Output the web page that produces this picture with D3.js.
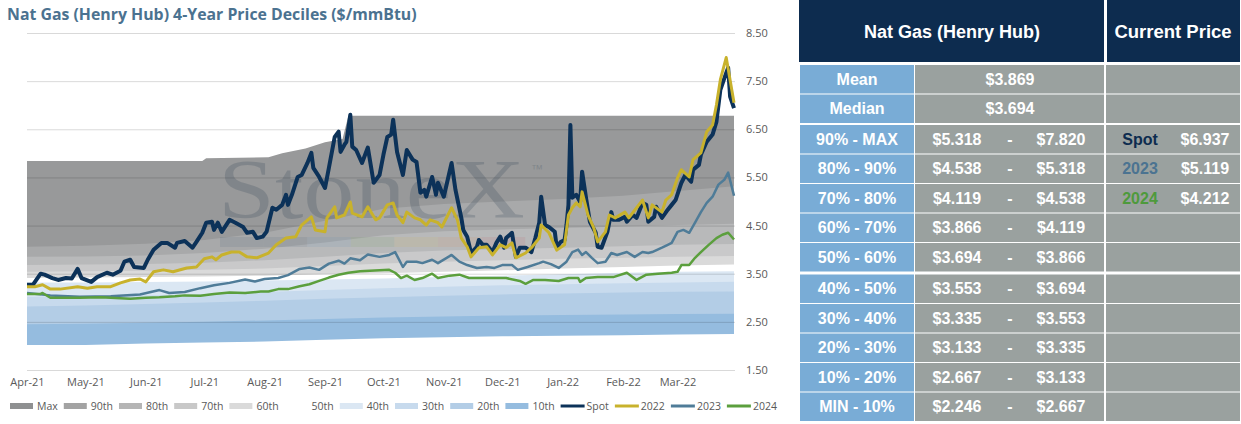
<!DOCTYPE html>
<html>
<head>
<meta charset="utf-8">
<script src="https://cdn.jsdelivr.net/npm/d3@7/dist/d3.min.js"></script>
<style>
body { margin: 0; background: #fff; }
svg { display: block; }
</style>
</head>
<body>
<script>
// ---------- chart data ----------
var monthTicks = ["2021-04-01","2021-05-01","2021-06-01","2021-07-01","2021-08-01","2021-09-01",
                  "2021-10-01","2021-11-01","2021-12-01","2022-01-01","2022-02-01","2022-03-01"];
var yTicks = [1.5, 2.5, 3.5, 4.5, 5.5, 6.5, 7.5, 8.5];

// decile boundaries (monthly)
var bandDates = ["2021-04-01","2021-05-01","2021-06-01","2021-07-01","2021-08-01","2021-09-01","2021-10-01",
                 "2021-11-01","2021-12-01","2022-01-01","2022-02-01","2022-03-01","2022-03-30"];
var p90  = [4.06, 4.08, 4.12, 4.20, 4.35, 4.60, 4.85, 4.95, 5.00, 5.05, 5.12, 5.22, 5.318];
var p80  = [3.85, 3.86, 3.88, 3.93, 4.02, 4.15, 4.30, 4.38, 4.42, 4.45, 4.48, 4.51, 4.538];
var p70  = [3.68, 3.69, 3.70, 3.73, 3.78, 3.85, 3.93, 3.98, 4.01, 4.04, 4.07, 4.10, 4.119];
var p60  = [3.54, 3.55, 3.56, 3.58, 3.61, 3.66, 3.71, 3.75, 3.78, 3.81, 3.83, 3.85, 3.866];
var p50  = [3.41, 3.42, 3.43, 3.44, 3.46, 3.49, 3.51, 3.54, 3.57, 3.61, 3.64, 3.67, 3.694];
var p40  = [3.32, 3.32, 3.33, 3.34, 3.36, 3.38, 3.40, 3.43, 3.46, 3.49, 3.52, 3.54, 3.553];
var p30  = [3.02, 3.03, 3.05, 3.08, 3.12, 3.16, 3.20, 3.23, 3.26, 3.28, 3.30, 3.32, 3.335];
var p20  = [2.82, 2.84, 2.87, 2.90, 2.94, 2.98, 3.01, 3.04, 3.07, 3.09, 3.11, 3.125, 3.133];
var p10  = [2.45, 2.46, 2.48, 2.50, 2.53, 2.56, 2.59, 2.61, 2.63, 2.645, 2.655, 2.663, 2.667];
var pMin = [2.02, 2.02, 2.05, 2.07, 2.09, 2.13, 2.16, 2.18, 2.20, 2.21, 2.22, 2.235, 2.246];
var maxDates = ["2021-04-01","2021-06-30","2021-07-02","2021-08-03","2021-08-10","2021-08-22",
                "2021-09-01","2021-09-10","2021-09-13","2022-03-30"];
var pMax = [5.84, 5.84, 5.90, 5.92, 6.00, 6.10, 6.23, 6.30, 6.78, 6.78];

var spot = [["2021-04-01",3.27],["2021-04-04",3.27],["2021-04-08",3.50],["2021-04-10",3.48],["2021-04-14",3.41],
["2021-04-17",3.37],["2021-04-21",3.41],["2021-04-24",3.40],["2021-04-27",3.60],["2021-04-29",3.41],["2021-05-04",3.33],
["2021-05-07",3.43],["2021-05-12",3.52],["2021-05-15",3.48],["2021-05-19",3.56],["2021-05-21",3.75],["2021-05-24",3.79],
["2021-05-26",3.64],["2021-05-31",3.62],["2021-06-02",3.79],["2021-06-05",4.00],["2021-06-09",4.14],["2021-06-12",4.14],
["2021-06-16",4.04],["2021-06-17",4.14],["2021-06-21",4.18],["2021-06-25",4.04],["2021-06-27",4.16],["2021-06-30",4.35],
["2021-07-02",4.56],["2021-07-05",4.58],["2021-07-06",4.41],["2021-07-08",4.56],["2021-07-10",4.37],["2021-07-14",4.62],
["2021-07-17",4.56],["2021-07-21",4.47],["2021-07-23",4.35],["2021-07-26",4.37],["2021-07-28",4.24],["2021-07-31",4.27],
["2021-08-02",4.37],["2021-08-05",4.87],["2021-08-07",4.83],["2021-08-10",4.93],["2021-08-12",5.14],["2021-08-13",4.93],
["2021-08-15",5.14],["2021-08-18",5.51],["2021-08-20",5.55],["2021-08-23",5.80],["2021-08-25",6.01],["2021-08-26",5.70],
["2021-08-29",5.51],["2021-09-01",5.28],["2021-09-03",5.70],["2021-09-06",6.34],["2021-09-08",6.45],["2021-09-09",6.03],
["2021-09-11",6.18],["2021-09-12",6.24],["2021-09-14",6.80],["2021-09-15",6.14],["2021-09-17",6.07],["2021-09-20",5.80],
["2021-09-23",6.12],["2021-09-26",5.39],["2021-09-29",5.55],["2021-10-01",5.97],["2021-10-03",6.34],["2021-10-05",6.39],
["2021-10-06",6.70],["2021-10-08",6.03],["2021-10-11",5.55],["2021-10-13",6.07],["2021-10-16",5.87],["2021-10-18",5.82],
["2021-10-20",5.18],["2021-10-22",5.24],["2021-10-23",5.10],["2021-10-26",5.51],["2021-10-28",5.14],["2021-10-29",5.39],
["2021-11-01",5.10],["2021-11-05",5.80],["2021-11-07",5.24],["2021-11-10",4.66],["2021-11-11",4.41],["2021-11-13",4.27],
["2021-11-15",3.93],["2021-11-18",4.06],["2021-11-19",4.20],["2021-11-21",4.10],["2021-11-23",4.10],["2021-11-26",3.95],
["2021-11-28",4.14],["2021-11-30",4.27],["2021-12-02",4.04],["2021-12-03",4.24],["2021-12-06",4.35],["2021-12-08",3.85],
["2021-12-10",4.04],["2021-12-13",4.04],["2021-12-16",3.95],["2021-12-18",4.24],["2021-12-20",4.56],["2021-12-21",5.10],
["2021-12-23",4.51],["2021-12-25",4.47],["2021-12-28",4.37],["2021-12-29",4.04],["2021-12-31",4.16],["2022-01-02",4.20],
["2022-01-03",4.51],["2022-01-04",4.93],["2022-01-05",6.59],["2022-01-06",5.08],["2022-01-08",5.14],["2022-01-10",4.99],
["2022-01-11",5.62],["2022-01-13",5.08],["2022-01-15",4.58],["2022-01-18",4.35],["2022-01-19",4.06],["2022-01-21",4.04],
["2022-01-24",4.37],["2022-01-26",4.78],["2022-01-27",4.62],["2022-01-30",4.62],["2022-02-02",4.68],["2022-02-03",4.58],
["2022-02-06",4.72],["2022-02-08",4.66],["2022-02-11",4.97],["2022-02-13",4.93],["2022-02-14",4.58],["2022-02-17",4.68],
["2022-02-18",4.89],["2022-02-21",4.66],["2022-02-24",4.83],["2022-02-26",4.93],["2022-02-28",5.03],["2022-03-03",5.39],
["2022-03-05",5.55],["2022-03-08",5.41],["2022-03-09",5.66],["2022-03-12",5.76],["2022-03-13",5.97],["2022-03-16",6.24],
["2022-03-19",6.39],["2022-03-21",6.66],["2022-03-23",7.32],["2022-03-26",7.67],["2022-03-27",7.78],["2022-03-28",7.18],
["2022-03-30",6.94]];

var strip2022 = [["2021-04-01",3.23],["2021-04-05",3.23],["2021-04-09",3.27],["2021-04-13",3.18],["2021-04-18",3.18],
["2021-04-27",3.23],["2021-05-02",3.20],["2021-05-07",3.23],["2021-05-14",3.23],["2021-05-19",3.31],["2021-05-24",3.37],
["2021-05-29",3.39],["2021-06-01",3.33],["2021-06-05",3.54],["2021-06-10",3.58],["2021-06-15",3.54],["2021-06-22",3.62],
["2021-06-27",3.64],["2021-07-01",3.81],["2021-07-05",3.85],["2021-07-07",3.79],["2021-07-10",3.89],["2021-07-15",3.95],
["2021-07-19",3.95],["2021-07-23",3.85],["2021-07-28",3.83],["2021-08-03",3.93],["2021-08-07",4.10],["2021-08-12",4.24],
["2021-08-17",4.27],["2021-08-20",4.51],["2021-08-25",4.68],["2021-08-27",4.41],["2021-09-01",4.37],["2021-09-02",4.66],
["2021-09-06",4.89],["2021-09-07",4.66],["2021-09-11",4.72],["2021-09-14",4.99],["2021-09-15",4.76],["2021-09-20",4.68],
["2021-09-23",4.89],["2021-09-27",4.62],["2021-09-29",4.66],["2021-10-03",4.93],["2021-10-06",4.97],["2021-10-08",4.72],
["2021-10-11",4.56],["2021-10-13",4.78],["2021-10-17",4.66],["2021-10-20",4.62],["2021-10-23",4.51],["2021-10-25",4.62],
["2021-10-29",4.56],["2021-10-31",4.47],["2021-11-05",4.87],["2021-11-08",4.62],["2021-11-10",4.24],["2021-11-13",4.06],
["2021-11-15",3.85],["2021-11-19",4.04],["2021-11-23",4.06],["2021-11-26",3.89],["2021-11-30",4.10],["2021-12-03",4.04],
["2021-12-06",4.14],["2021-12-08",3.83],["2021-12-13",3.93],["2021-12-16",4.04],["2021-12-20",4.24],["2021-12-21",4.51],
["2021-12-25",4.35],["2021-12-29",3.99],["2022-01-02",4.10],["2022-01-04",4.72],["2022-01-06",4.87],["2022-01-08",4.97],
["2022-01-10",4.89],["2022-01-11",5.20],["2022-01-14",4.72],["2022-01-17",4.45],["2022-01-19",4.16],["2022-01-23",4.37],
["2022-01-25",4.72],["2022-01-28",4.66],["2022-02-02",4.78],["2022-02-04",4.66],["2022-02-08",4.87],["2022-02-11",5.03],
["2022-02-14",4.66],["2022-02-16",4.93],["2022-02-21",4.78],["2022-02-23",5.03],["2022-02-26",5.14],["2022-03-01",5.49],
["2022-03-03",5.66],["2022-03-07",5.51],["2022-03-09",5.87],["2022-03-13",6.01],["2022-03-16",6.45],["2022-03-19",6.59],
["2022-03-21",7.01],["2022-03-23",7.53],["2022-03-26",7.99],["2022-03-30",7.05]];

var strip2023 = [["2021-04-01",3.10],["2021-04-13",3.05],["2021-04-28",3.02],["2021-05-14",3.03],["2021-05-29",3.07],
["2021-06-08",3.16],["2021-06-13",3.10],["2021-06-21",3.12],["2021-06-29",3.20],["2021-07-06",3.26],["2021-07-14",3.31],
["2021-07-22",3.38],["2021-07-27",3.34],["2021-08-01",3.39],["2021-08-08",3.41],["2021-08-13",3.47],["2021-08-19",3.60],
["2021-08-24",3.63],["2021-08-29",3.58],["2021-09-03",3.71],["2021-09-08",3.77],["2021-09-11",3.71],["2021-09-14",3.82],
["2021-09-19",3.78],["2021-09-23",3.90],["2021-09-29",3.85],["2021-10-04",3.89],["2021-10-07",3.95],["2021-10-11",3.64],
["2021-10-13",3.75],["2021-10-18",3.75],["2021-10-21",3.72],["2021-10-26",3.79],["2021-10-29",3.72],["2021-11-05",3.89],
["2021-11-09",3.75],["2021-11-13",3.68],["2021-11-18",3.62],["2021-11-23",3.64],["2021-11-27",3.62],["2021-12-01",3.68],
["2021-12-06",3.68],["2021-12-09",3.58],["2021-12-14",3.64],["2021-12-20",3.72],["2021-12-22",3.75],["2021-12-26",3.70],
["2021-12-30",3.62],["2022-01-03",3.75],["2022-01-06",3.95],["2022-01-09",4.00],["2022-01-11",3.89],["2022-01-13",3.95],
["2022-01-16",3.83],["2022-01-19",3.72],["2022-01-23",3.75],["2022-01-26",3.93],["2022-01-29",3.89],["2022-02-03",3.95],
["2022-02-07",3.85],["2022-02-11",3.95],["2022-02-14",3.93],["2022-02-16",3.95],["2022-02-21",4.04],["2022-02-24",4.10],
["2022-02-26",4.14],["2022-03-01",4.37],["2022-03-04",4.41],["2022-03-07",4.35],["2022-03-10",4.56],["2022-03-13",4.78],
["2022-03-16",4.97],["2022-03-19",5.10],["2022-03-22",5.35],["2022-03-25",5.45],["2022-03-27",5.60],["2022-03-30",5.12]];

var strip2024 = [["2021-04-01",3.08],["2021-04-08",3.08],["2021-04-09",3.10],["2021-04-13",3.00],["2021-04-18",3.00],
["2021-04-28",3.00],["2021-05-09",3.01],["2021-05-24",2.98],["2021-06-01",3.00],["2021-06-08",3.01],["2021-06-16",3.03],
["2021-06-21",3.05],["2021-06-29",3.04],["2021-07-06",3.08],["2021-07-14",3.11],["2021-07-22",3.10],["2021-07-30",3.13],
["2021-08-03",3.13],["2021-08-08",3.18],["2021-08-13",3.18],["2021-08-19",3.24],["2021-08-24",3.28],["2021-08-29",3.35],
["2021-09-03",3.42],["2021-09-08",3.48],["2021-09-13",3.52],["2021-09-19",3.55],["2021-09-24",3.56],["2021-09-29",3.57],
["2021-10-04",3.58],["2021-10-07",3.52],["2021-10-10",3.41],["2021-10-13",3.46],["2021-10-17",3.37],["2021-10-21",3.41],
["2021-10-26",3.50],["2021-10-29",3.41],["2021-11-04",3.46],["2021-11-09",3.48],["2021-11-14",3.41],["2021-11-19",3.41],
["2021-11-26",3.41],["2021-12-03",3.41],["2021-12-10",3.35],["2021-12-13",3.29],["2021-12-17",3.37],["2021-12-23",3.37],
["2021-12-30",3.35],["2022-01-04",3.41],["2022-01-09",3.41],["2022-01-10",3.33],["2022-01-13",3.41],["2022-01-19",3.43],
["2022-01-27",3.43],["2022-02-03",3.52],["2022-02-08",3.37],["2022-02-13",3.48],["2022-02-19",3.50],["2022-02-26",3.52],
["2022-03-01",3.54],["2022-03-03",3.68],["2022-03-07",3.68],["2022-03-10",3.83],["2022-03-13",3.95],["2022-03-17",4.10],
["2022-03-21",4.24],["2022-03-24",4.31],["2022-03-27",4.35],["2022-03-30",4.21]];

// ---------- table data ----------
var rowLabels = ["Mean","Median","90% - MAX","80% - 90%","70% - 80%","60% - 70%","50% - 60%",
                 "40% - 50%","30% - 40%","20% - 30%","10% - 20%","MIN - 10%"];
var rowLow  = [3.869, 3.694, 5.318, 4.538, 4.119, 3.866, 3.694, 3.553, 3.335, 3.133, 2.667, 2.246];
var rowHigh = [null, null, 7.820, 5.318, 4.538, 4.119, 3.866, 3.694, 3.553, 3.335, 3.133, 2.667];
var curNames  = ["Spot", "2023", "2024"];
var curVals   = [6.937, 5.119, 4.212];
var curColors = ["#0d2c4f", "#4b7391", "#4e9a3c"];

// ---------- setup ----------
var W = 1241, H = 424;
var svg = d3.select("body").append("svg").attr("width", W).attr("height", H);
var parse = d3.timeParse("%Y-%m-%d");
var tickFont = "'Open Sans', 'DejaVu Sans', sans-serif";
var tableFont = "'Liberation Sans', Arial, sans-serif";

var plotL = 27, plotR = 734, plotT = 33, plotB = 370;
var x = d3.scaleTime()
    .domain([parse("2021-04-01"), parse("2022-03-30")])
    .range([plotL, plotR]);
var y = d3.scaleLinear()
    .domain([1.5, 8.5])
    .range([plotB, plotT]);

function toPts(dates, vals) {
    return dates.map(function(d, i) { return {date: parse(d), v: vals[i]}; });
}
function fromPairs(arr) {
    return arr.map(function(p) { return {date: parse(p[0]), v: p[1]}; });
}

// title
var title = svg.append("text")
    .attr("x", 7).attr("y", 19.5)
    .attr("font-family", tickFont)
    .attr("font-weight", 700)
    .attr("font-size", 17)
    .attr("fill", "#4b7290")
    .text("Nat Gas (Henry Hub) 4-Year Price Deciles ($/mmBtu)");
var tw = title.node().getComputedTextLength();
if (tw > 410) title.attr("font-size", 17 * 410 / tw);

// decile bands, painted top-down as overlapping areas
var layers = [
    {pts: toPts(maxDates, pMax), fill: "#98999a"},
    {pts: toPts(bandDates, p90), fill: "#a8a9aa"},
    {pts: toPts(bandDates, p80), fill: "#b8b9ba"},
    {pts: toPts(bandDates, p70), fill: "#c9c9ca"},
    {pts: toPts(bandDates, p60), fill: "#dadada"},
    {pts: toPts(bandDates, p50), fill: "#ffffff"},
    {pts: toPts(bandDates, p40), fill: "#dbe7f3"},
    {pts: toPts(bandDates, p30), fill: "#c7daed"},
    {pts: toPts(bandDates, p20), fill: "#b3cde6"},
    {pts: toPts(bandDates, p10), fill: "#95bcdf"},
    {pts: toPts(bandDates, pMin), fill: "#ffffff"}
];
var area = d3.area()
    .x(function(d) { return x(d.date); })
    .y0(y(1.5))
    .y1(function(d) { return y(d.v); });
svg.append("g").selectAll("path")
    .data(layers)
    .enter().append("path")
    .attr("d", function(d) { return area(d.pts); })
    .attr("fill", function(d) { return d.fill; });

// gridlines
svg.append("g").selectAll("line")
    .data(yTicks)
    .enter().append("line")
    .attr("x1", plotL).attr("x2", plotR + 1)
    .attr("y1", function(d) { return y(d) + 0.5; })
    .attr("y2", function(d) { return y(d) + 0.5; })
    .attr("stroke", "rgba(0,0,0,0.15)")
    .attr("stroke-width", 1);

// watermark
var wm = svg.append("g").attr("opacity", 0.21);
wm.append("text")
    .attr("x", 218).attr("y", 218)
    .attr("font-family", "'Liberation Serif', 'DejaVu Serif', serif")
    .attr("font-size", 84)
    .attr("textLength", 307)
    .attr("lengthAdjust", "spacingAndGlyphs")
    .attr("fill", "#2c3f52")
    .text("StoneX");
wm.append("text")
    .attr("x", 531).attr("y", 173)
    .attr("font-family", tableFont)
    .attr("font-size", 12)
    .attr("fill", "#2c3f52")
    .text("\u2122");
var stripCols = ["#2f4f6a", "#2f4f6a", "#4f86b8", "#5f9a4a", "#d8b83a", "#e08a4a", "#c8505a"];
wm.selectAll("rect")
    .data(stripCols)
    .enter().append("rect")
    .attr("x", function(d, i) { return 220 + i * 43.6; })
    .attr("y", 237)
    .attr("width", 43.6)
    .attr("height", 10)
    .attr("fill", function(d) { return d; })
    .attr("opacity", 0.5);

// price lines
var line = d3.line()
    .x(function(d) { return x(d.date); })
    .y(function(d) { return y(d.v); });
var series = [
    {name: "Spot", pts: fromPairs(spot), color: "#0c3259", w: 4},
    {name: "2022", pts: fromPairs(strip2022), color: "#c8b22c", w: 3},
    {name: "2023", pts: fromPairs(strip2023), color: "#4f7c98", w: 2.5},
    {name: "2024", pts: fromPairs(strip2024), color: "#5b9f3d", w: 2.5}
];
svg.append("g").selectAll("path")
    .data(series)
    .enter().append("path")
    .attr("fill", "none")
    .attr("stroke", function(d) { return d.color; })
    .attr("stroke-width", function(d) { return d.w; })
    .attr("stroke-linejoin", "round")
    .attr("d", function(d) { return line(d.pts); });

// y axis labels (right)
var yAxis = svg.append("g")
    .attr("transform", "translate(" + (plotR + 1) + ",0)")
    .call(d3.axisRight(y).tickValues(yTicks).tickFormat(d3.format(".2f")).tickSize(0).tickPadding(11));
yAxis.select(".domain").remove();
yAxis.selectAll("text")
    .attr("font-family", tickFont).attr("font-size", 11).attr("fill", "#595959");

// x axis labels
var xAxis = svg.append("g")
    .attr("transform", "translate(0," + plotB + ")")
    .call(d3.axisBottom(x).tickValues(monthTicks.map(parse)).tickFormat(d3.timeFormat("%b-%y")).tickSize(0).tickPadding(8));
xAxis.select(".domain").remove();
xAxis.selectAll("text")
    .attr("font-family", tickFont).attr("font-size", 11).attr("fill", "#595959");

// legend
var legendNames = ["Max","90th","80th","70th","60th","50th","40th","30th","20th","10th","Spot","2022","2023","2024"];
var legendCols  = ["#8f9091","#a3a3a3","#b5b5b5","#c8c8c8","#dadada","none","#dbe7f3","#c7daed","#b3cde6",
                   "#95bcdf","#0c3259","#c8b22c","#4f7c98","#5b9f3d"];
var legendIsLine = [0,0,0,0,0,0,0,0,0,0,1,1,1,1];
var lg = svg.append("g");
var lx = 10, ly = 406;
legendNames.forEach(function(name, i) {
    if (legendIsLine[i]) {
        lg.append("line")
            .attr("x1", lx).attr("x2", lx + 24)
            .attr("y1", ly).attr("y2", ly)
            .attr("stroke", legendCols[i]).attr("stroke-width", 3);
    } else if (legendCols[i] !== "none") {
        lg.append("rect")
            .attr("x", lx).attr("y", ly - 3)
            .attr("width", 23).attr("height", 6)
            .attr("fill", legendCols[i]);
    }
    var t = lg.append("text")
        .attr("x", lx + (legendIsLine[i] ? 26 : 27)).attr("y", ly + 4)
        .attr("font-family", tickFont).attr("font-size", 10.5).attr("fill", "#595959")
        .text(name);
    lx = lx + (legendIsLine[i] ? 26 : 27) + t.node().getComputedTextLength() + 6;
});

// ---------- table ----------
var tb = svg.append("g").attr("font-family", tableFont).attr("font-weight", "bold");
var navy = "#0d2c4f", cellBlue = "#79acd6", cellGrey = "#9aa19f";
var colL = 800, colV = 915, colC = 1106, colEnd = 1240;

tb.append("rect").attr("x", 799).attr("y", 0).attr("width", 1104 - 799).attr("height", 62).attr("fill", navy);
tb.append("rect").attr("x", 1107).attr("y", 0).attr("width", colEnd - 1107).attr("height", 62).attr("fill", navy);
tb.append("text").attr("x", 952).attr("y", 32).attr("dy", "0.35em").attr("text-anchor", "middle")
    .attr("font-size", 18).attr("fill", "#fff").text("Nat Gas (Henry Hub)");
tb.append("text").attr("x", 1173).attr("y", 32).attr("dy", "0.35em").attr("text-anchor", "middle")
    .attr("font-size", 18.5).attr("fill", "#fff").text("Current Price");

// row tops: 2 summary rows, then two groups of 5 separated by a thicker white rule
function rowTop(i) { return 65 + i * 29.5 + (i >= 2 ? 1 : 0) + (i >= 7 ? 2 : 0); }
var rowH = 28.5;
var fmt = d3.format("$.3f");

rowLabels.forEach(function(lab, i) {
    var top = rowTop(i), mid = top + rowH / 2;
    tb.append("rect").attr("x", colL).attr("y", top).attr("width", colV - 1 - colL).attr("height", rowH).attr("fill", cellBlue);
    tb.append("rect").attr("x", colV).attr("y", top).attr("width", colC - 2 - colV).attr("height", rowH).attr("fill", cellGrey);
    tb.append("rect").attr("x", colC).attr("y", top).attr("width", colEnd - colC).attr("height", rowH).attr("fill", cellGrey);
    tb.append("text").attr("x", 857).attr("y", mid).attr("dy", "0.35em").attr("text-anchor", "middle")
        .attr("font-size", 16).attr("fill", "#fff").text(lab);
    if (rowHigh[i] === null) {
        tb.append("text").attr("x", 1010).attr("y", mid).attr("dy", "0.35em").attr("text-anchor", "middle")
            .attr("font-size", 16).attr("fill", "#fff").text(fmt(rowLow[i]));
    } else {
        tb.append("text").attr("x", 957).attr("y", mid).attr("dy", "0.35em").attr("text-anchor", "middle")
            .attr("font-size", 16).attr("fill", "#fff").text(fmt(rowLow[i]));
        tb.append("text").attr("x", 1010).attr("y", mid).attr("dy", "0.35em").attr("text-anchor", "middle")
            .attr("font-size", 16).attr("fill", "#fff").text("-");
        tb.append("text").attr("x", 1061).attr("y", mid).attr("dy", "0.35em").attr("text-anchor", "middle")
            .attr("font-size", 16).attr("fill", "#fff").text(fmt(rowHigh[i]));
    }
    var ci = i - 2;
    if (ci >= 0 && ci < curNames.length) {
        tb.append("text").attr("x", 1140).attr("y", mid).attr("dy", "0.35em").attr("text-anchor", "middle")
            .attr("font-size", 16).attr("fill", curColors[ci]).text(curNames[ci]);
        tb.append("text").attr("x", 1205).attr("y", mid).attr("dy", "0.35em").attr("text-anchor", "middle")
            .attr("font-size", 16).attr("fill", "#fff").text(fmt(curVals[ci]));
    }
});
</script>
</body>
</html>
